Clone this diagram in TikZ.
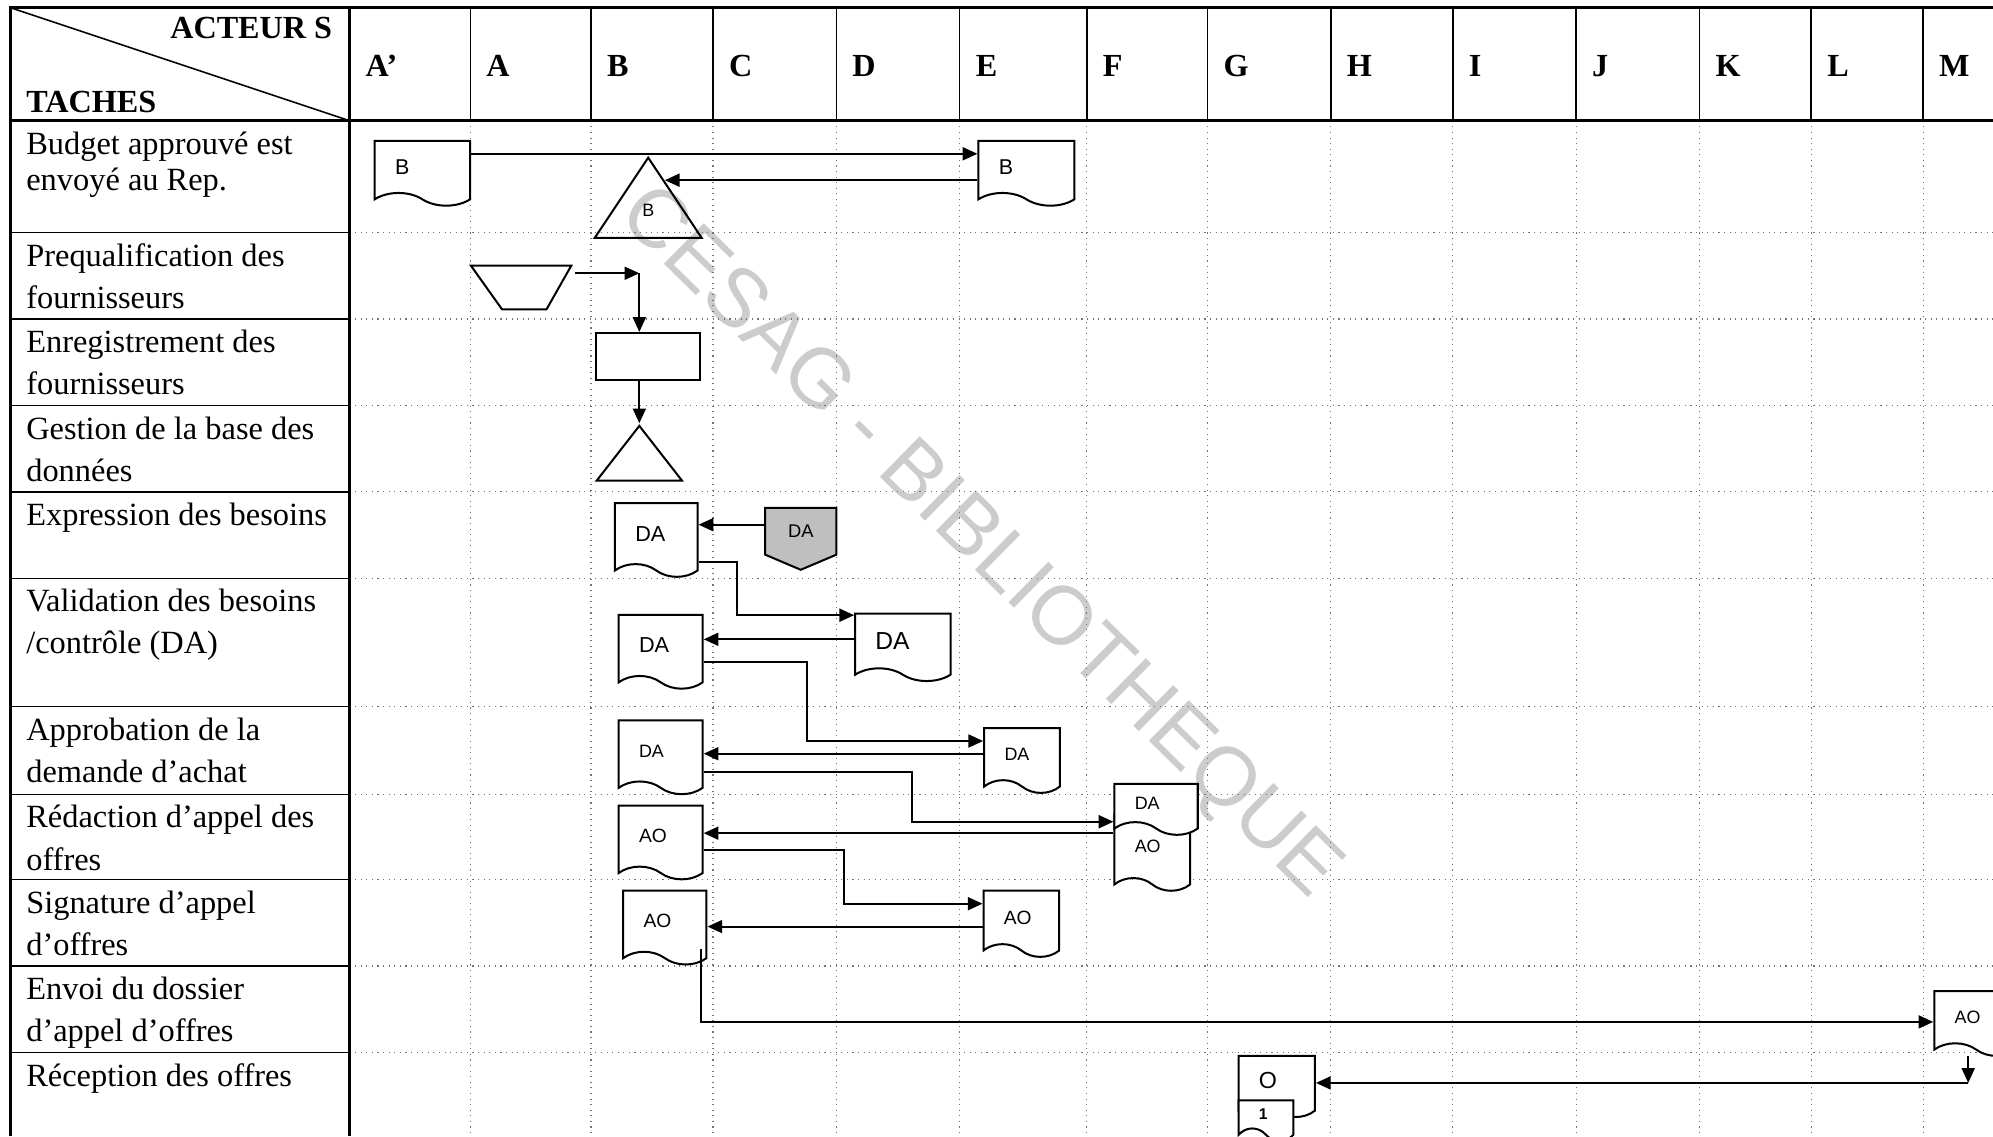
\documentclass[tikz,border=0pt]{standalone}
\usepackage{fontspec}
\setmainfont{Liberation Serif}
\setsansfont{Liberation Sans}
\usetikzlibrary{arrows.meta, shapes.geometric, shapes.symbols, positioning, calc}

\begin{document}
\begin{tikzpicture}[
          x=0.01cm, y=-0.01cm,
          frame/.style={line width=0.6pt},
          rowline/.style={line width=0.35pt},
          cellline/.style={black!55, line width=0.25pt, densely dotted},
          task/.style={
              anchor=north west,
              align=left,
              inner sep=0pt,
              font=\fontsize{7.25}{9.4}\selectfont
            },
          head/.style={
              anchor=west,
              inner sep=0pt,
              font=\fontsize{7.2}{9}\selectfont\bfseries
            },
          doc/.style={
              tape,
              draw,
              fill=white,
              line width=0.45pt,
              tape bend top=none,
              tape bend bottom=out and in,
              tape bend height=0.1cm,
              anchor=north west,
              inner xsep=0.16cm,
              inner ysep=0pt,
              align=left,
              font=\sffamily\fontsize{4.3}{5}\selectfont
            },
          tri/.style={
              isosceles triangle,
              isosceles triangle stretches,
              shape border rotate=90,
              draw,
              line width=0.45pt,
              anchor=apex,
              inner sep=0pt,
              font=\sffamily\fontsize{4}{5}\selectfont
            },
          arr/.style={-{Triangle[length=3.3pt, width=2.9pt]}, line width=0.45pt}
        ]
        \useasboundingbox (0,0) rectangle (1568,894);
        \clip (0,0) rectangle (1568,894);
        \fill[white] (0,0) rectangle (1568,894);

        \node[text=black!20, rotate=-44.5, font=\sffamily\fontsize{18.5}{20}\selectfont] (wmark) at (770,428) {CESAG - BIBLIOTHEQUE};

        \foreach \x in {370,465,561,658,755,855,950,1047,1143,1240,1337,1425,1513} {
            \draw[rowline] (\x,6) -- (\x,95);
            \draw[cellline] (\x,95) -- (\x,894);
          }
        \foreach \y in {183,251,319,387,455,556,625,692,760,828} {
            \draw[rowline] (8,\y) -- (275,\y);
            \draw[cellline] (275,\y) -- (1568,\y);
          }
        \draw[frame] (8,894) -- (8,6) -- (1568,6);
        \draw[frame] (8,95) -- (1568,95);
        \draw[frame] (275,6) -- (275,894);
        \draw[rowline] (8,6) -- (275,95);

        \node[head, anchor=east] (head_act) at (262,22) {ACTEUR S};
        \node[head] (head_tac) at (20,80) {TACHES};
        \foreach \x/\c/\n in {275/A’/ap, 370/A/a, 465/B/b, 561/C/c, 658/D/d, 755/E/e, 855/F/f,
            950/G/g, 1047/H/h, 1143/I/i, 1240/J/j, 1337/K/k, 1425/L/l, 1513/M/m}
          \node[head] (col_\n) at (\x+12,52) {\c};

        \node[task, font=\fontsize{7.25}{8.2}\selectfont] (task_bud) at (20,103) {Budget approuvé est\\envoyé au Rep.};
        \node[task] (task_prq) at (20,191) {Prequalification des\\fournisseurs};
        \node[task] (task_enr) at (20,259) {Enregistrement des\\fournisseurs};
        \node[task] (task_ges) at (20,327) {Gestion de la base des\\données};
        \node[task] (task_exp) at (20,395) {Expression des besoins};
        \node[task] (task_val) at (20,463) {Validation des besoins\\/contrôle (DA)};
        \node[task] (task_apr) at (20,564) {Approbation de la\\demande d’achat};
        \node[task] (task_rdc) at (20,633) {Rédaction d’appel des\\offres};
        \node[task] (task_sig) at (20,700) {Signature d’appel\\d’offres};
        \node[task] (task_env) at (20,768) {Envoi du dossier\\d’appel d’offres};
        \node[task] (task_rec) at (20,836) {Réception des offres};

        \node[doc, text width=0.43cm, minimum height=0.51cm, font=\sffamily\fontsize{4.8}{5}\selectfont] (bud_ap) at (294,110) {B};
        \node[doc, text width=0.435cm, minimum height=0.51cm, font=\sffamily\fontsize{4.8}{5}\selectfont] (bud_e) at (769,110) {B};
        \node[tri, minimum width=0.84cm, minimum height=0.63cm] (bud_tri) at (510,122) {B};

        \node[minimum width=0.775cm, minimum height=0.33cm, inner sep=0pt, anchor=north west] (prq_trap) at (370.5,209) {};
        \draw[line width=0.45pt] (prq_trap.north west) -- (prq_trap.north east)
          -- ($(prq_trap.south east)+(-19.5,0)$) -- ($(prq_trap.south west)+(24.5,0)$) -- cycle;
        \node[draw, line width=0.45pt, minimum width=0.82cm, minimum height=0.37cm, inner sep=0pt] (enr_box) at (510,280.5) {};
        \node[tri, minimum width=0.67cm, minimum height=0.43cm] (ges_tri) at (503,333) {\phantom{B}};

        \node[doc, text width=0.33cm, minimum height=0.58cm, font=\sffamily\fontsize{4.85}{5}\selectfont] (exp_da) at (483,395) {DA};
        \node[signal, signal to=south, signal from=nowhere, signal pointer angle=134, draw, fill=gray!50,
          line width=0.45pt, minimum width=0.56cm, minimum height=0.41cm, inner sep=0pt,
          font=\sffamily\fontsize{4.1}{5}\selectfont] (exp_pent) at (630,418) {DA};

        \node[doc, text width=0.34cm, minimum height=0.58cm, font=\sffamily\fontsize{4.85}{5}\selectfont] (val_dab) at (486,483) {DA};
        \node[doc, text width=0.43cm, minimum height=0.53cm, font=\sffamily\fontsize{5.5}{6}\selectfont] (val_dad) at (672,482) {DA};

        \node[doc, text width=0.34cm, minimum height=0.58cm, font=\sffamily\fontsize{4}{5}\selectfont] (apr_dab) at (486,566) {DA};
        \node[doc, text width=0.275cm, minimum height=0.51cm, font=\sffamily\fontsize{4}{5}\selectfont] (apr_dae) at (773.5,572) {DA};

        \node[doc, text width=0.34cm, minimum height=0.58cm] (rdc_aob) at (486,633) {AO};
        \node[doc, text width=0.275cm, minimum height=0.6cm, font=\sffamily\fontsize{4}{5}\selectfont] (rdc_ao) at (876,640) {AO};
        \node[doc, text width=0.335cm, minimum height=0.4cm, font=\sffamily\fontsize{4}{5}\selectfont] (rdc_da) at (876,616) {DA};

        \node[doc, text width=0.335cm, minimum height=0.58cm] (sig_aob) at (489.5,700) {AO};
        \node[doc, text width=0.275cm, minimum height=0.52cm] (sig_aoe) at (773,700) {AO};

        \node[doc, text width=0.34cm, minimum height=0.51cm, font=\sffamily\fontsize{4}{5}\selectfont] (env_ao) at (1521,779) {AO};

        \node[doc, text width=0.28cm, minimum height=0.48cm, font=\sffamily\fontsize{5.2}{6}\selectfont] (rec_o) at (973.7,830) {O};
        \node[doc, text width=0.11cm, minimum height=0.32cm, font=\sffamily\bfseries\fontsize{3.5}{4}\selectfont] (rec_1) at (973.7,865) {1};

        \draw[arr] ($(bud_ap.north east)+(0,11)$) -- ($(bud_e.north west)+(0,11)$);
        \coordinate (bud_hit) at ($(bud_tri.apex)!0.3!(bud_tri.right corner)$);
        \draw[arr] (bud_hit -| bud_e.west) -- (bud_hit);

        \coordinate (prq_turn) at (503,215);
        \draw[arr] ($(prq_trap.north east)+(3,6)$) -- (prq_turn);
        \draw[arr] (prq_turn) -- (prq_turn |- enr_box.north);
        \draw[arr] (ges_tri.apex |- enr_box.south) -- (ges_tri.apex);

        \draw[arr] ($(exp_pent.north west)+(0,14)$) coordinate (exp_hit) -- (exp_hit -| exp_da.east);
        \draw[arr] ($(exp_da.north east)+(0,47)$) -- ++(30,0) |- ($(val_dad.north west)+(0,2)$);
        \draw[arr] ($(val_dad.north west)+(0,21)$) coordinate (val_hit) -- (val_hit -| val_dab.east);
        \draw[arr] ($(val_dab.north east)+(0,38)$) -- ++(81,0) |- ($(apr_dae.north west)+(0,11)$);
        \draw[arr] ($(apr_dae.north west)+(0,21)$) coordinate (apr_hit) -- (apr_hit -| apr_dab.east);
        \draw[arr] ($(apr_dab.north east)+(0,41)$) -- ++(164,0) |- ($(rdc_da.north west)+(0,30.5)$);
        \draw[arr] ($(rdc_ao.north west)+(0,15.5)$) coordinate (rdc_hit) -- (rdc_hit -| rdc_aob.east);
        \draw[arr] ($(rdc_aob.north east)+(0,36)$) -- ++(110.5,0) |- ($(sig_aoe.north west)+(0,11)$);
        \draw[arr] ($(sig_aoe.north west)+(0,29)$) coordinate (sig_hit) -- (sig_hit -| sig_aob.east);
        \draw[arr] ($(sig_aob.north east)+(-5,47)$) |- ($(env_ao.north west)+(0,25)$);
        \draw[arr] ($(env_ao.north west)+(27.5,52)$) -- ++(0,21) coordinate (env_turn);
        \draw[arr] (env_turn) -- (env_turn -| rec_o.east);
      \end{tikzpicture}
\end{document}
